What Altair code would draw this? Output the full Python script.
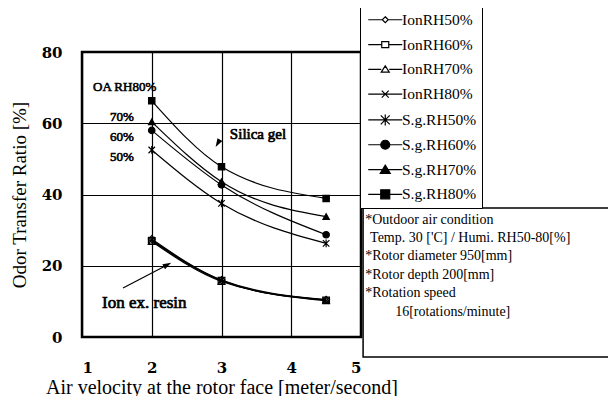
import altair as alt
import pandas as pd

FONT = "Liberation Serif"
BFONT = "DejaVu Serif"

series = ["IonRH50%", "IonRH60%", "IonRH70%", "IonRH80%",
          "S.g.RH50%", "S.g.RH60%", "S.g.RH70%", "S.g.RH80%"]
velocity = [2, 3, 4.5]
values = {
    "IonRH50%": [27.5, 16.0, 10.5],
    "IonRH60%": [27.0, 15.8, 10.3],
    "IonRH70%": [26.8, 15.6, 10.4],
    "IonRH80%": [27.2, 15.9, 10.2],
    "S.g.RH50%": [52.5, 37.5, 26.3],
    "S.g.RH60%": [58.0, 42.7, 28.7],
    "S.g.RH70%": [60.4, 43.6, 33.8],
    "S.g.RH80%": [66.3, 47.8, 38.9],
}

rows = []
for s in series:
    for v, r in zip(velocity, values[s]):
        rows.append({"series": s, "v": v, "ratio": r})
df = pd.DataFrame(rows)

# marker shapes in the plot
X = "M-1,-1L1,1M-1,1L1,-1"
AST = "M-1,-1L1,1M-1,1L1,-1M0,-1.2V1.2"
plot_shapes = ["diamond", "square", "triangle-up", X, AST, "circle", "triangle-up", "square"]
plot_fill = ["transparent"] * 4 + ["black"] * 4
plot_size = [45, 40, 45, 45, 160, 100, 110, 100]

# legend symbols: line + marker
L = "M-3.4,0H3.4"
LS = "M-3.4,0H-0.7M0.7,0H3.4"
legend_shapes = [
    LS + "M0,-0.6L0.6,0L0,0.6L-0.6,0Z",
    LS + "M-0.7,-0.6H0.7V0.6H-0.7Z",
    "M-3.4,0H-0.8M0.8,0H3.4" + "M0,-0.7L0.8,0.55H-0.8Z",
    L + "M-0.7,-0.7L0.7,0.7M-0.7,0.7L0.7,-0.7",
    L + "M-0.9,-0.9L0.9,0.9M-0.9,0.9L0.9,-0.9M0,-1.1V1.1",
    L + "M0.9,0A0.9,0.9,0,1,1,-0.9,0A0.9,0.9,0,1,1,0.9,0Z",
    L + "M0,-0.9L1,0.75H-1Z",
    L + "M-0.9,-0.9H0.9V0.9H-0.9Z",
]
legend_fill = ["white"] * 4 + ["black"] * 4
legend_stroke = ["black"] * 8

xs = alt.Scale(domain=[1, 5], nice=False, zero=False)
ys = alt.Scale(domain=[0, 80], nice=False)

xenc = alt.X("v:Q", scale=xs,
             axis=alt.Axis(values=[1, 2, 3, 4, 5], format="d",
                           title="Air velocity at the rotor face [meter/second]",
                           labelFont=BFONT, labelFontSize=15, labelFontWeight="bold", labelColor="black",
                           labelPadding=23, ticks=False, domain=False,
                           grid=True, gridColor="black", gridWidth=1.2, gridOpacity=1,
                           titleFont=FONT, titleFontSize=20, titleFontWeight="normal", titleColor="black",
                           titlePadding=2))
yenc = alt.Y("ratio:Q", scale=ys,
             axis=alt.Axis(values=[0, 20, 40, 60, 80], format="d", title="Odor Transfer Ratio [%]",
                           labelFont=BFONT, labelFontSize=15, labelFontWeight="bold", labelColor="black",
                           labelPadding=20, ticks=False, domain=False,
                           grid=True, gridColor="black", gridWidth=1.2, gridOpacity=1,
                           titleFont=FONT, titleFontSize=19, titleFontWeight="normal", titleColor="black",
                           titlePadding=12))

base = alt.Chart(df)

lines = base.mark_line(color="black", strokeWidth=1.2, interpolate="monotone").encode(
    x=xenc, y=yenc, detail="series:N")

markers = base.mark_point(stroke="black", strokeWidth=1.2, opacity=1).encode(
    x="v:Q", y="ratio:Q",
    shape=alt.Shape("series:N", scale=alt.Scale(domain=series, range=plot_shapes), legend=None),
    fill=alt.Fill("series:N", scale=alt.Scale(domain=series, range=plot_fill), legend=None),
    size=alt.Size("series:N", scale=alt.Scale(domain=series, range=plot_size), legend=None),
)

leg = alt.Legend(orient="none", legendX=278, legendY=-45, title=None,
                 symbolSize=100, symbolStrokeWidth=1.2, symbolStrokeColor="black",
                 symbolOffset=12.5, labelOffset=9, labelFont=FONT, labelFontSize=15.5,
                 labelColor="black", rowPadding=7.8, padding=5, strokeColor="black",
                 fillColor="white", symbolOpacity=1)
legend_layer = base.mark_point(opacity=0).encode(
    x="v:Q", y="ratio:Q",
    shape=alt.Shape("series:N", scale=alt.Scale(domain=series, range=legend_shapes), legend=leg),
    fill=alt.Fill("series:N", scale=alt.Scale(domain=series, range=legend_fill), legend=leg),
    stroke=alt.Stroke("series:N", scale=alt.Scale(domain=series, range=legend_stroke), legend=leg),
)

# annotations (regular serif with a thin stroke to look bold)
ann_bold = pd.DataFrame({
    "x": [1.158, 1.40, 1.40, 1.40],
    "y": [70.2, 61.75, 56.1, 50.5],
    "t": ["OA RH80%", "70%", "60%", "50%"],
})
ann1 = alt.Chart(ann_bold).mark_text(font=FONT, fontSize=13, align="left", stroke="black",
                                     strokeWidth=0.6, baseline="middle", color="black").encode(
    x=alt.X("x:Q", scale=xs), y=alt.Y("y:Q", scale=ys), text="t:N")

ann_big = pd.DataFrame({"x": [3.12, 1.287], "y": [57.0, 9.5], "t": ["Silica gel", "Ion ex. resin"],
                        "s": [15, 17]})
ann2 = alt.Chart(ann_big).mark_text(font=FONT, align="left", stroke="black", strokeWidth=0.7,
                                    baseline="middle", color="black").encode(
    x=alt.X("x:Q", scale=xs), y=alt.Y("y:Q", scale=ys), text="t:N",
    size=alt.Size("s:Q", scale=None))

arrow_line = pd.DataFrame({"x": [1.588], "y": [13.75], "x2": [2.20], "y2": [20.0]})
arr_l = alt.Chart(arrow_line).mark_rule(color="black", strokeWidth=1.2).encode(
    x=alt.X("x:Q", scale=xs), y=alt.Y("y:Q", scale=ys), x2="x2:Q", y2="y2:Q")

HEAD = "M0,-1L0.6,0.8L-0.6,0.8Z"
heads = pd.DataFrame({"x": [2.219, 2.95], "y": [20.2, 54.5], "a": [62, 210]})
arr_h = alt.Chart(heads).mark_point(shape=HEAD, filled=True, color="black", size=90,
                                    opacity=1).encode(
    x=alt.X("x:Q", scale=xs), y=alt.Y("y:Q", scale=ys), angle=alt.Angle("a:Q", scale=None))

# info box
box = pd.DataFrame({"x": [5.03], "x2": [8.8], "y": [36.2], "y2": [-5.6]})
box_m = alt.Chart(box).mark_rect(fill="white", stroke="black", strokeWidth=1.5).encode(
    x=alt.X("x:Q", scale=xs), x2="x2:Q", y=alt.Y("y:Q", scale=ys), y2="y2:Q")

info = pd.DataFrame({
    "x": [5.06, 5.13, 5.06, 5.06, 5.06, 5.49],
    "y": [32.8, 27.8, 22.7, 17.4, 12.35, 7.0],
    "t": ["*Outdoor air condition", "Temp. 30 ['C] / Humi. RH50-80[%]", "*Rotor diameter 950[mm]",
          "*Rotor depth 200[mm]", "*Rotation speed", "16[rotations/minute]"],
})
info_m = alt.Chart(info).mark_text(font=FONT, fontSize=14, align="left", baseline="middle",
                                   color="black").encode(
    x=alt.X("x:Q", scale=xs), y=alt.Y("y:Q", scale=ys), text="t:N")

chart = alt.layer(lines, markers, legend_layer, ann1, ann2, arr_l, arr_h, box_m, info_m).resolve_scale(
    shape="independent", fill="independent", size="independent", stroke="independent"
).properties(
    width=279, height=285,
    autosize=alt.AutoSizeParams(type="none"),
    padding={"left": 74, "top": 44, "right": 247, "bottom": 59},
    background="white",
).configure(font=FONT).configure_view(stroke="black", strokeWidth=2.5)

chart.save("out.html", embed_options={"renderer": "svg", "actions": False})
